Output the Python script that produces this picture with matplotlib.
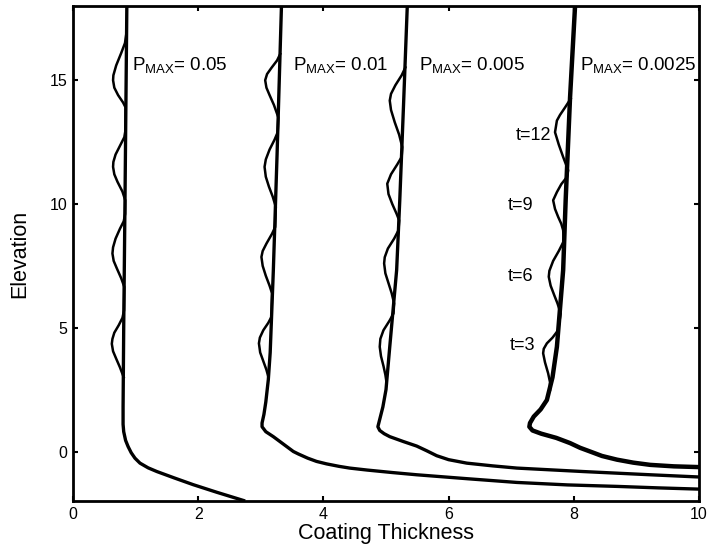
import matplotlib
matplotlib.use('Agg')
import matplotlib.pyplot as plt
import numpy as np

plt.rcParams['font.family'] = ['Liberation Sans', 'DejaVu Sans']
plt.rcParams['mathtext.fontset'] = 'custom'
plt.rcParams['mathtext.rm'] = 'Liberation Sans'
plt.rcParams['mathtext.it'] = 'Liberation Sans:italic'

# steady profiles (elevation, thickness), one per P_MAX
steady1_y = [18, 10, 5, 1.8, 1.1, 0.8, 0.45, 0.2, -0.05, -0.27, -0.47, -0.66, -0.81, -1.07, -1.34, -1.65, -2.0]
steady1_x = [0.86, 0.83, 0.81, 0.80, 0.80, 0.81, 0.84, 0.88, 0.93, 0.99, 1.07, 1.20, 1.34, 1.62, 1.92, 2.30, 2.75]

steady2_y = [18, 12, 7.3, 4, 2.9, 2.0, 1.5, 1.15, 1.0, 0.8, 0.6, 0.3, 0.0, -0.1, -0.27, -0.4, -0.5, -0.6,
             -0.67, -0.75, -0.85, -0.94, -1.1, -1.25, -1.35, -1.41, -1.47, -1.52]
steady2_x = [3.33, 3.26, 3.20, 3.15, 3.12, 3.08, 3.05, 3.02, 3.02, 3.08, 3.20, 3.36, 3.52, 3.60, 3.75, 3.89, 4.05, 4.25,
             4.42, 4.70, 5.10, 5.49, 6.3, 7.09, 7.9, 8.69, 9.35, 10.0]

steady3_y = [18, 14, 10.15, 7.33, 4.23, 2.5, 1.8, 1.4, 1.0, 0.85, 0.72, 0.6, 0.4, 0.22, 0.03, -0.17, -0.33,
             -0.47, -0.58, -0.67, -0.81, -0.94, -1.03]
steady3_x = [5.34, 5.28, 5.22, 5.17, 5.06, 5.0, 4.95, 4.91, 4.87, 4.90, 4.97, 5.06, 5.28, 5.49, 5.65, 5.81, 6.0,
             6.29, 6.7, 7.09, 8.15, 9.22, 10.0]

steady4_y = [18, 14.3, 10.15, 7.33, 4.23, 3.0, 2.08, 1.7, 1.41, 1.15, 1.0, 0.85, 0.72, 0.55, 0.34, 0.15,
             0.0, -0.18, -0.33, -0.45, -0.54, -0.6, -0.63]
steady4_x = [8.02, 7.94, 7.87, 7.83, 7.73, 7.66, 7.57, 7.47, 7.36, 7.30, 7.29, 7.34, 7.48, 7.72, 7.94, 8.10,
             8.26, 8.45, 8.69, 8.95, 9.22, 9.6, 10.0]

# transient (wavy) profiles
wave1_y = [16.9, 16.5, 16.1, 15.6, 15.2, 15.0, 14.7, 14.4, 14.1, 13.9,
           13.0, 12.7, 12.4, 12.0, 11.7, 11.5, 11.2, 10.9, 10.5, 10.15,
           9.6, 9.3, 9.0, 8.6, 8.25, 8.0, 7.7, 7.4, 7.0, 6.65,
           5.7, 5.4, 5.1, 4.8, 4.55, 4.35, 4.05, 3.75, 3.4, 3.0]
wave1_x = [0.853, 0.83, 0.77, 0.69, 0.645, 0.64, 0.66, 0.72, 0.80, 0.84,
           0.84, 0.82, 0.76, 0.68, 0.645, 0.64, 0.66, 0.71, 0.79, 0.835,
           0.833, 0.81, 0.75, 0.68, 0.64, 0.63, 0.65, 0.70, 0.77, 0.82,
           0.815, 0.79, 0.73, 0.66, 0.63, 0.62, 0.64, 0.69, 0.75, 0.81]

wave2_y = [16.06, 15.8, 15.5, 15.25, 15.0, 14.7, 14.4, 14.0, 13.5,
           12.9, 12.6, 12.2, 11.8, 11.5, 11.1, 10.7, 10.3, 9.88,
           9.07, 8.8, 8.4, 8.1, 7.86, 7.5, 7.1, 6.7, 6.39,
           5.44, 5.2, 4.9, 4.6, 4.37, 4.0, 3.65, 3.3, 3.02]
wave2_x = [3.31, 3.26, 3.17, 3.10, 3.07, 3.09, 3.14, 3.21, 3.28,
           3.27, 3.22, 3.14, 3.08, 3.06, 3.08, 3.13, 3.19, 3.24,
           3.23, 3.18, 3.09, 3.03, 3.01, 3.03, 3.08, 3.14, 3.18,
           3.17, 3.12, 3.04, 2.985, 2.97, 2.99, 3.04, 3.09, 3.12]

wave3_y = [15.52, 15.2, 14.8, 14.45, 14.18, 13.8, 13.3, 12.8, 12.3,
           11.9, 11.6, 11.2, 10.82, 10.4, 10.0, 9.6, 9.34,
           8.94, 8.6, 8.2, 7.85, 7.6, 7.2, 6.8, 6.4, 5.98,
           5.58, 5.3, 4.9, 4.55, 4.23, 3.85, 3.45, 3.1, 2.76]
wave3_x = [5.31, 5.25, 5.15, 5.08, 5.06, 5.08, 5.14, 5.21, 5.26,
           5.25, 5.18, 5.08, 5.02, 5.04, 5.10, 5.17, 5.21,
           5.20, 5.13, 5.03, 4.98, 4.97, 4.99, 5.04, 5.09, 5.13,
           5.12, 5.06, 4.96, 4.91, 4.90, 4.92, 4.96, 4.99, 5.01]

wave4_y = [14.25, 13.9, 13.6, 13.37, 12.9, 12.4, 11.9, 11.36,
           11.09, 10.8, 10.48, 10.15, 9.8, 9.48, 9.2, 8.94,
           8.5, 8.1, 7.7, 7.3, 7.06, 6.7, 6.3, 5.98, 5.58,
           4.9, 4.6, 4.37, 4.15, 3.97, 3.6, 3.16, 2.8, 2.49]
wave4_x = [7.95, 7.86, 7.78, 7.73, 7.70, 7.76, 7.83, 7.91,
           7.89, 7.80, 7.73, 7.67, 7.70, 7.75, 7.80, 7.83,
           7.84, 7.76, 7.67, 7.61, 7.60, 7.63, 7.69, 7.74, 7.79,
           7.75, 7.66, 7.57, 7.52, 7.51, 7.54, 7.59, 7.62, 7.62]

pmax_labels = ['0.05', '0.01', '0.005', '0.0025']
pmax_x = [0.95, 3.51, 5.52, 8.10]
time_labels = ['t=12', 't=9', 't=6', 't=3']
time_x = [7.08, 6.95, 6.95, 6.97]
time_y = [12.77, 9.93, 7.08, 4.30]

fig = plt.figure(figsize=(7.07, 5.46), dpi=100)
ax = fig.add_axes([73 / 707, 45 / 546, 626 / 707, 495 / 546])

for sx, sy in [(steady1_x, steady1_y), (steady2_x, steady2_y), (steady3_x, steady3_y)]:
    ax.plot(sx, sy, color='black', lw=2.4, solid_capstyle='butt', solid_joinstyle='round')
ax.plot(steady4_x, steady4_y, color='black', lw=3.2, solid_capstyle='butt', solid_joinstyle='round')

for wx, wy in [(wave1_x, wave1_y), (wave2_x, wave2_y), (wave3_x, wave3_y), (wave4_x, wave4_y)]:
    ax.plot(wx, wy, color='black', lw=1.8, solid_joinstyle='round')

for lab, px in zip(pmax_labels, pmax_x):
    ax.text(px, 15.4, r'P$_{\mathrm{MAX}}$= ' + lab, fontsize=13.5, ha='left', va='baseline')

for lab, tx, ty in zip(time_labels, time_x, time_y):
    ax.text(tx, ty, lab, fontsize=13, ha='left', va='center')

ax.set_xlim(0, 10)
ax.set_ylim(-2, 18)
ax.set_xticks([0, 2, 4, 6, 8, 10])
ax.set_yticks([0, 5, 10, 15])
ax.tick_params(direction='in', top=True, right=True, length=3.6, width=1.5,
               labelsize=11.5, pad=4)
for sp in ax.spines.values():
    sp.set_linewidth(2)

ax.set_xlabel('Coating Thickness', fontsize=15.5, labelpad=1)
ax.set_ylabel('Elevation', fontsize=15.5, labelpad=14)

fig.savefig('out.png', dpi=100)
